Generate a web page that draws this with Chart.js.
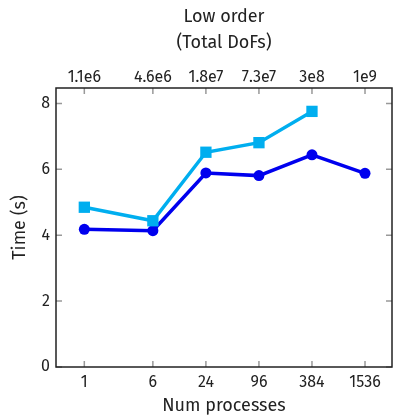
<!DOCTYPE html>
<html>
<head>
<meta charset="utf-8">
<script src="https://cdn.jsdelivr.net/npm/chart.js@4"></script>
<style>
  html, body { margin: 0; padding: 0; background: #fff; }
  #wrap { width: 393px; height: 417px; }
</style>
</head>
<body>
<div id="wrap"><canvas id="timeChart" width="393" height="417"></canvas></div>
<script>
// ==================== DATA ====================
const procs = [1, 6, 24, 96, 384, 1536];
const dofLabels = ['1.1e6', '4.6e6', '1.8e7', '7.3e7', '3e8', '1e9'];
const yTicks = [0, 2, 4, 6, 8];

const darkTimes = [4.18, 4.14, 5.89, 5.81, 6.44, 5.88];
const lightTimes = [4.85, 4.44, 6.52, 6.81, 7.76];

// ==================== STYLE ====================
const FONT = '"Fira Sans", "Noto Sans", sans-serif';
const TEXT = '#222';
const TICK = '#999';
const X_MIN = 0.477;
const X_MAX = 3110;

function pts(values) {
    return values.map((v, i) => ({ x: procs[i], y: v }));
}

// fixed axis box sizes, no extra label padding
function fixSize(axis, w, h) {
    if (w != null) axis.width = w;
    if (h != null) axis.height = h;
    axis.paddingLeft = 0;
    axis.paddingRight = 0;
    axis.paddingTop = 0;
    axis.paddingBottom = 0;
}

// frame + inward tick marks
const frameTicks = {
    id: 'frameTicks',
    afterDraw(chart) {
        const { ctx, chartArea: a, scales } = chart;
        const len = 6;
        ctx.save();
        ctx.strokeStyle = TICK;
        ctx.lineWidth = 1.5;
        ctx.beginPath();
        procs.forEach(p => {
            const x = scales.x.getPixelForValue(p);
            ctx.moveTo(x, a.bottom); ctx.lineTo(x, a.bottom - len);
            ctx.moveTo(x, a.top); ctx.lineTo(x, a.top + len);
        });
        yTicks.forEach(t => {
            const y = scales.y.getPixelForValue(t);
            ctx.moveTo(a.left, y); ctx.lineTo(a.left + len, y);
            ctx.moveTo(a.right, y); ctx.lineTo(a.right - len, y);
        });
        ctx.stroke();
        ctx.strokeStyle = TEXT;
        ctx.lineWidth = 1.5;
        ctx.strokeRect(a.left, a.top, a.right - a.left, a.bottom - a.top);
        ctx.restore();
    }
};

const chart = new Chart(document.getElementById('timeChart'), {
    type: 'line',
    data: {
        datasets: [
            {
                label: 'light',
                data: pts(lightTimes),
                borderColor: '#00AEEF',
                backgroundColor: '#00AEEF',
                borderWidth: 3.5,
                pointStyle: 'rect',
                pointRadius: 8,
                pointBorderWidth: 0,
                pointHoverRadius: 8
            },
            {
                label: 'dark',
                data: pts(darkTimes),
                borderColor: '#0000EE',
                backgroundColor: '#0000EE',
                borderWidth: 3.5,
                pointStyle: 'circle',
                pointRadius: 5.5,
                pointBorderWidth: 0,
                pointHoverRadius: 5.5
            }
        ]
    },
    options: {
        responsive: false,
        animation: false,
        layout: { autoPadding: false, padding: { left: 0, right: 1, top: 0, bottom: 0 } },
        plugins: { legend: { display: false }, tooltip: { enabled: false } },
        scales: {
            x: {
                type: 'logarithmic',
                position: 'bottom',
                min: X_MIN,
                max: X_MAX,
                grid: { display: false, drawTicks: false },
                border: { display: false },
                afterBuildTicks: axis => { axis.ticks = procs.map(v => ({ value: v })); },
                afterFit: axis => fixSize(axis, null, 50),
                ticks: {
                    autoSkip: false,
                    maxRotation: 0,
                    color: TEXT,
                    padding: 6,
                    font: { family: FONT, size: 16 },
                    callback: (v, i) => String(procs[i])
                },
                title: {
                    display: true,
                    text: 'Num processes',
                    color: TEXT,
                    padding: { top: 0, bottom: 0 },
                    font: { family: FONT, size: 18 }
                }
            },
            xTop: {
                type: 'logarithmic',
                position: 'top',
                min: X_MIN,
                max: X_MAX,
                grid: { display: false, drawTicks: false },
                border: { display: false },
                afterBuildTicks: axis => { axis.ticks = procs.map(v => ({ value: v })); },
                afterFit: axis => fixSize(axis, null, 88),
                ticks: {
                    autoSkip: false,
                    maxRotation: 0,
                    color: TEXT,
                    padding: 1,
                    font: { family: FONT, size: 16 },
                    callback: (v, i) => dofLabels[i]
                },
                title: {
                    display: true,
                    text: ['Low order', '(Total DoFs)'],
                    color: TEXT,
                    padding: { top: 4, bottom: 0 },
                    font: { family: FONT, size: 18, lineHeight: 1.45 }
                }
            },
            y: {
                min: 0,
                max: 8.47,
                grid: { display: false, drawTicks: false },
                border: { display: false },
                afterBuildTicks: axis => { axis.ticks = yTicks.map(v => ({ value: v })); },
                afterFit: axis => fixSize(axis, 56, null),
                ticks: {
                    color: TEXT,
                    padding: 6,
                    font: { family: FONT, size: 16 }
                },
                title: {
                    display: true,
                    text: 'Time (s)',
                    color: TEXT,
                    padding: { top: 9, bottom: 0 },
                    font: { family: FONT, size: 18 }
                }
            }
        }
    },
    plugins: [frameTicks]
});
</script>
</body>
</html>
